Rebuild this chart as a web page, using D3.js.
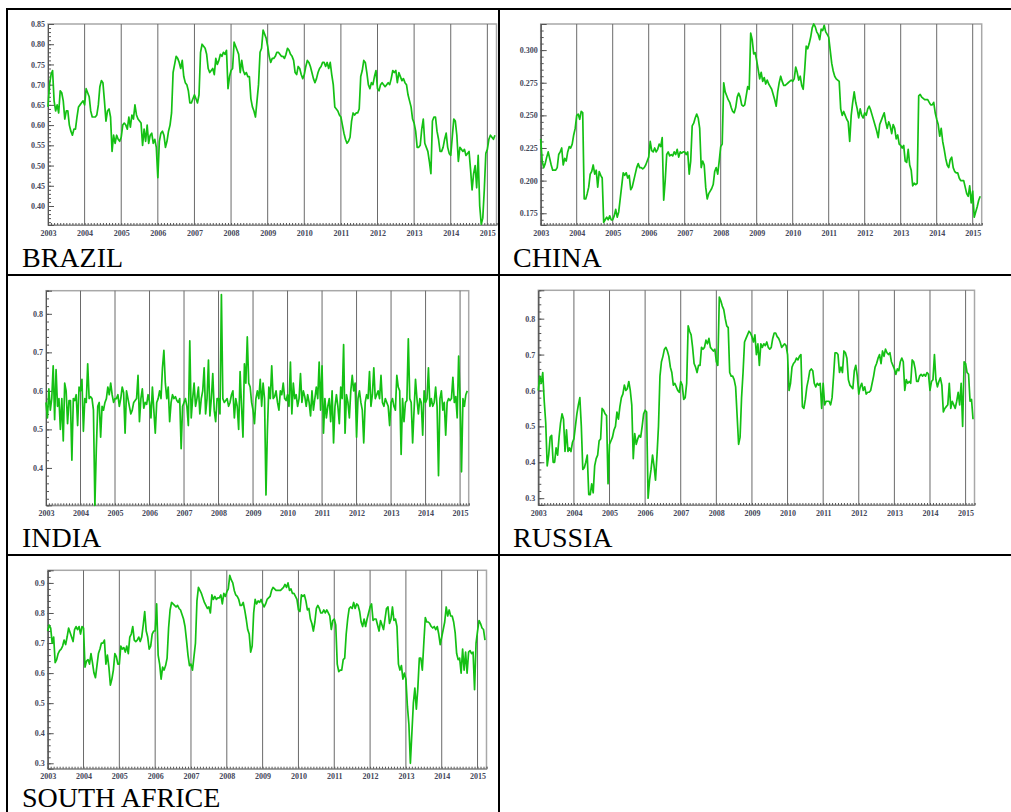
<!DOCTYPE html>
<html>
<head>
<meta charset="utf-8">
<title>BRICS</title>
<style>
body { margin: 0; background: #fff; }
.axis text { font-family: "Liberation Serif", serif; font-size: 8px; font-weight: bold; fill: #45485a; }
.axis path, .axis line { stroke: #555; }
.xaxis path { stroke: #888; }
.grid { stroke: #6a6a6a; stroke-width: 1; }
.frame { fill: none; stroke: #a8a8a8; stroke-width: 1.5; }
.series { fill: none; stroke: #14c014; stroke-width: 1.7; stroke-linejoin: round; }
.cell { stroke: #000; stroke-width: 2; }
.title { font-family: "Liberation Serif", "Times New Roman", serif; font-size: 28px; fill: #000; }
</style>
</head>
<body>
<svg width="1011" height="812"></svg>
<script src="https://d3js.org/d3.v7.min.js"></script>
<script>

// year ticks, one value every half month from Jan 2003
var years = [2003, 2004, 2005, 2006, 2007, 2008, 2009, 2010, 2011, 2012, 2013, 2014, 2015];
var perYear = 24;

var brazilTicks = [0.40, 0.45, 0.50, 0.55, 0.60, 0.65, 0.70, 0.75, 0.80, 0.85];
var chinaTicks = [0.175, 0.200, 0.225, 0.250, 0.275, 0.300];
var indiaTicks = [0.4, 0.5, 0.6, 0.7, 0.8];
var russiaTicks = [0.3, 0.4, 0.5, 0.6, 0.7, 0.8];
var safTicks = [0.3, 0.4, 0.5, 0.6, 0.7, 0.8, 0.9];

var brazil = [
  [0.645,0.70,0.725,0.735,0.66,0.635,0.65,0.63,0.685,0.68,0.66,0.615,0.635,0.635,0.60,0.585,0.575,0.59,0.59,0.62,0.645,0.65,0.655,0.66],
  [0.65,0.69,0.68,0.67,0.635,0.62,0.62,0.62,0.625,0.65,0.695,0.71,0.705,0.66,0.61,0.635,0.64,0.62,0.535,0.575,0.555,0.575,0.565,0.56],
  [0.57,0.60,0.605,0.60,0.59,0.62,0.595,0.625,0.615,0.65,0.625,0.615,0.61,0.605,0.55,0.59,0.56,0.60,0.555,0.575,0.58,0.555,0.565,0.545],
  [0.47,0.56,0.58,0.585,0.575,0.545,0.56,0.585,0.60,0.63,0.73,0.75,0.77,0.765,0.755,0.74,0.76,0.72,0.705,0.70,0.685,0.655,0.655,0.665],
  [0.675,0.665,0.655,0.675,0.78,0.80,0.795,0.79,0.775,0.74,0.73,0.735,0.74,0.725,0.765,0.75,0.76,0.775,0.77,0.78,0.775,0.785,0.69,0.72],
  [0.735,0.74,0.805,0.795,0.785,0.775,0.73,0.76,0.735,0.725,0.73,0.72,0.72,0.665,0.645,0.635,0.62,0.66,0.70,0.78,0.79,0.835,0.825,0.815],
  [0.795,0.77,0.755,0.765,0.765,0.77,0.78,0.78,0.775,0.77,0.77,0.765,0.775,0.79,0.785,0.775,0.77,0.76,0.73,0.725,0.745,0.74,0.725,0.715],
  [0.725,0.745,0.76,0.755,0.745,0.73,0.715,0.705,0.715,0.73,0.74,0.745,0.755,0.755,0.745,0.755,0.74,0.755,0.725,0.70,0.645,0.64,0.635,0.625],
  [0.62,0.60,0.58,0.565,0.555,0.56,0.57,0.61,0.63,0.625,0.63,0.63,0.64,0.72,0.735,0.76,0.755,0.73,0.70,0.69,0.705,0.70,0.72,0.735],
  [0.69,0.685,0.70,0.705,0.70,0.695,0.70,0.705,0.70,0.715,0.735,0.73,0.735,0.705,0.73,0.72,0.71,0.715,0.705,0.70,0.675,0.66,0.645,0.615],
  [0.605,0.585,0.545,0.545,0.55,0.59,0.615,0.555,0.545,0.535,0.51,0.48,0.61,0.62,0.62,0.585,0.565,0.535,0.535,0.545,0.565,0.58,0.545,0.53],
  [0.525,0.57,0.615,0.61,0.575,0.51,0.545,0.54,0.535,0.54,0.525,0.53,0.535,0.49,0.44,0.48,0.50,0.445,0.525,0.40,0.355,0.37,0.44,0.53],
  [0.54,0.565,0.575,0.57,0.565,0.575]
];

var china = [
  [0.232,0.215,0.210,0.213,0.218,0.222,0.217,0.212,0.208,0.208,0.208,0.210,0.220,0.222,0.225,0.212,0.217,0.215,0.222,0.226,0.225,0.228,0.235,0.240],
  [0.250,0.251,0.247,0.253,0.252,0.186,0.186,0.190,0.195,0.205,0.207,0.212,0.205,0.208,0.195,0.207,0.204,0.202,0.168,0.170,0.172,0.170,0.173,0.170],
  [0.170,0.173,0.178,0.172,0.176,0.186,0.196,0.206,0.204,0.206,0.202,0.204,0.193,0.195,0.200,0.205,0.210,0.213,0.210,0.210,0.209,0.210,0.212,0.215],
  [0.218,0.230,0.223,0.222,0.225,0.222,0.224,0.228,0.226,0.233,0.185,0.200,0.220,0.222,0.219,0.220,0.219,0.222,0.220,0.224,0.218,0.222,0.221,0.222],
  [0.222,0.220,0.222,0.205,0.215,0.242,0.244,0.248,0.251,0.248,0.240,0.210,0.215,0.212,0.195,0.186,0.190,0.192,0.194,0.197,0.207,0.210,0.205,0.215],
  [0.226,0.228,0.275,0.268,0.265,0.262,0.260,0.256,0.253,0.252,0.256,0.264,0.267,0.264,0.258,0.257,0.258,0.265,0.272,0.270,0.313,0.308,0.297,0.298],
  [0.292,0.285,0.278,0.283,0.276,0.279,0.274,0.277,0.274,0.272,0.270,0.266,0.262,0.257,0.268,0.275,0.280,0.276,0.273,0.273,0.274,0.275,0.276,0.277],
  [0.276,0.278,0.287,0.283,0.277,0.280,0.273,0.270,0.285,0.303,0.301,0.305,0.310,0.317,0.320,0.318,0.314,0.312,0.308,0.316,0.315,0.319,0.314,0.312],
  [0.310,0.300,0.290,0.284,0.280,0.278,0.277,0.276,0.255,0.250,0.253,0.250,0.247,0.245,0.230,0.250,0.260,0.268,0.260,0.255,0.248,0.255,0.250,0.248],
  [0.252,0.250,0.255,0.257,0.254,0.250,0.246,0.242,0.238,0.233,0.243,0.246,0.249,0.252,0.245,0.240,0.245,0.242,0.236,0.243,0.240,0.232,0.235,0.228],
  [0.227,0.225,0.227,0.215,0.214,0.224,0.212,0.208,0.196,0.198,0.197,0.198,0.265,0.266,0.264,0.263,0.262,0.262,0.262,0.260,0.258,0.258,0.260,0.252],
  [0.247,0.243,0.234,0.240,0.230,0.224,0.217,0.212,0.210,0.216,0.218,0.210,0.207,0.206,0.206,0.202,0.200,0.200,0.200,0.195,0.190,0.188,0.196,0.183],
  [0.192,0.172,0.176,0.180,0.185,0.188]
];

var india = [
  [0.57,0.53,0.605,0.55,0.58,0.665,0.525,0.655,0.56,0.58,0.50,0.58,0.47,0.62,0.60,0.515,0.575,0.575,0.42,0.58,0.575,0.59,0.51,0.61],
  [0.60,0.63,0.495,0.58,0.57,0.67,0.58,0.585,0.58,0.55,0.303,0.45,0.56,0.57,0.48,0.56,0.55,0.57,0.58,0.61,0.59,0.62,0.59,0.57],
  [0.58,0.58,0.59,0.56,0.58,0.61,0.595,0.49,0.60,0.58,0.56,0.54,0.55,0.57,0.575,0.58,0.64,0.52,0.58,0.605,0.555,0.57,0.565,0.59],
  [0.57,0.53,0.61,0.55,0.49,0.57,0.58,0.60,0.58,0.66,0.705,0.62,0.58,0.61,0.52,0.57,0.59,0.58,0.585,0.575,0.57,0.58,0.45,0.56],
  [0.57,0.58,0.56,0.51,0.73,0.53,0.58,0.62,0.56,0.58,0.61,0.54,0.58,0.60,0.66,0.54,0.58,0.68,0.535,0.58,0.645,0.55,0.52,0.58],
  [0.58,0.54,0.85,0.58,0.57,0.575,0.58,0.56,0.57,0.59,0.60,0.53,0.58,0.56,0.50,0.65,0.56,0.48,0.67,0.62,0.74,0.62,0.61,0.57],
  [0.55,0.515,0.58,0.60,0.58,0.63,0.56,0.62,0.58,0.33,0.50,0.61,0.58,0.665,0.58,0.585,0.60,0.57,0.55,0.60,0.59,0.62,0.58,0.575],
  [0.59,0.56,0.675,0.54,0.62,0.58,0.59,0.56,0.58,0.645,0.57,0.60,0.585,0.56,0.59,0.57,0.535,0.60,0.55,0.58,0.61,0.58,0.675,0.55],
  [0.665,0.49,0.58,0.53,0.56,0.58,0.52,0.60,0.465,0.56,0.59,0.56,0.515,0.61,0.58,0.72,0.49,0.59,0.57,0.53,0.60,0.64,0.60,0.62],
  [0.48,0.58,0.60,0.57,0.55,0.465,0.57,0.59,0.58,0.65,0.56,0.59,0.66,0.58,0.59,0.60,0.58,0.64,0.57,0.56,0.58,0.57,0.56,0.51],
  [0.57,0.58,0.56,0.55,0.64,0.61,0.60,0.435,0.58,0.52,0.57,0.575,0.735,0.58,0.57,0.465,0.55,0.63,0.58,0.54,0.58,0.57,0.485,0.60],
  [0.57,0.58,0.66,0.56,0.58,0.56,0.57,0.61,0.56,0.38,0.58,0.60,0.55,0.57,0.485,0.57,0.58,0.575,0.58,0.635,0.57,0.585,0.53,0.69],
  [0.58,0.39,0.58,0.56,0.59,0.60]
];

var russia = [
  [0.60,0.64,0.62,0.65,0.57,0.51,0.39,0.42,0.47,0.475,0.40,0.40,0.44,0.42,0.47,0.51,0.535,0.52,0.43,0.49,0.43,0.44,0.43,0.455],
  [0.465,0.50,0.535,0.56,0.58,0.50,0.38,0.385,0.40,0.42,0.31,0.31,0.34,0.315,0.39,0.41,0.42,0.46,0.465,0.55,0.545,0.535,0.53,0.34],
  [0.45,0.46,0.47,0.49,0.50,0.54,0.52,0.555,0.58,0.59,0.615,0.60,0.605,0.625,0.60,0.56,0.41,0.48,0.45,0.465,0.475,0.47,0.50,0.535],
  [0.545,0.54,0.30,0.35,0.38,0.42,0.39,0.35,0.42,0.50,0.64,0.68,0.695,0.715,0.72,0.71,0.695,0.665,0.65,0.615,0.62,0.61,0.60,0.595],
  [0.625,0.615,0.575,0.58,0.62,0.78,0.765,0.755,0.72,0.675,0.665,0.65,0.67,0.67,0.72,0.715,0.72,0.74,0.73,0.745,0.72,0.715,0.71,0.715],
  [0.68,0.67,0.86,0.85,0.835,0.825,0.80,0.78,0.775,0.65,0.64,0.64,0.63,0.61,0.53,0.45,0.47,0.58,0.65,0.735,0.745,0.755,0.765,0.76],
  [0.75,0.735,0.755,0.70,0.73,0.67,0.73,0.72,0.73,0.725,0.735,0.72,0.715,0.72,0.745,0.76,0.76,0.75,0.745,0.735,0.72,0.725,0.73,0.725],
  [0.70,0.60,0.62,0.665,0.675,0.68,0.69,0.685,0.695,0.70,0.555,0.55,0.575,0.61,0.63,0.655,0.66,0.655,0.62,0.61,0.62,0.615,0.62,0.55],
  [0.62,0.56,0.57,0.57,0.57,0.56,0.58,0.64,0.705,0.705,0.70,0.65,0.665,0.65,0.71,0.705,0.69,0.63,0.615,0.61,0.605,0.655,0.67,0.64],
  [0.59,0.61,0.62,0.60,0.61,0.59,0.595,0.595,0.60,0.62,0.64,0.665,0.675,0.69,0.70,0.675,0.71,0.695,0.715,0.705,0.70,0.705,0.68,0.67],
  [0.66,0.645,0.66,0.655,0.68,0.69,0.68,0.60,0.63,0.62,0.625,0.62,0.685,0.68,0.66,0.625,0.625,0.64,0.645,0.64,0.645,0.64,0.65,0.645],
  [0.60,0.625,0.63,0.70,0.63,0.61,0.625,0.635,0.615,0.54,0.55,0.555,0.56,0.62,0.55,0.57,0.56,0.55,0.57,0.595,0.56,0.62,0.50,0.68],
  [0.675,0.65,0.645,0.57,0.575,0.52]
];

var southAfrica = [
  [0.74,0.76,0.75,0.70,0.72,0.635,0.645,0.665,0.675,0.68,0.69,0.71,0.695,0.72,0.75,0.735,0.72,0.705,0.745,0.755,0.745,0.755,0.73,0.755],
  [0.75,0.62,0.64,0.645,0.63,0.665,0.635,0.60,0.585,0.625,0.665,0.68,0.70,0.70,0.71,0.63,0.66,0.62,0.56,0.58,0.61,0.665,0.655,0.63],
  [0.63,0.69,0.68,0.685,0.67,0.69,0.665,0.72,0.73,0.755,0.71,0.705,0.71,0.72,0.705,0.72,0.76,0.805,0.74,0.72,0.68,0.69,0.73,0.74],
  [0.74,0.83,0.66,0.63,0.58,0.62,0.61,0.625,0.65,0.75,0.81,0.835,0.83,0.825,0.82,0.825,0.815,0.81,0.795,0.78,0.755,0.71,0.66,0.625],
  [0.63,0.61,0.655,0.70,0.84,0.885,0.875,0.865,0.85,0.835,0.825,0.815,0.82,0.80,0.86,0.845,0.855,0.845,0.85,0.85,0.86,0.83,0.865,0.855],
  [0.87,0.88,0.925,0.91,0.90,0.875,0.86,0.855,0.845,0.825,0.825,0.835,0.81,0.78,0.745,0.73,0.67,0.69,0.80,0.845,0.83,0.84,0.835,0.845],
  [0.83,0.82,0.83,0.845,0.85,0.855,0.875,0.885,0.88,0.875,0.875,0.875,0.875,0.88,0.885,0.895,0.885,0.90,0.875,0.88,0.865,0.865,0.855,0.845],
  [0.81,0.805,0.86,0.855,0.86,0.84,0.81,0.815,0.78,0.765,0.74,0.77,0.815,0.825,0.815,0.80,0.80,0.81,0.80,0.81,0.80,0.79,0.745,0.775],
  [0.78,0.76,0.63,0.605,0.61,0.61,0.645,0.65,0.73,0.78,0.815,0.82,0.815,0.835,0.815,0.83,0.825,0.805,0.77,0.755,0.78,0.755,0.78,0.80],
  [0.82,0.83,0.775,0.78,0.78,0.76,0.74,0.775,0.76,0.745,0.78,0.815,0.82,0.765,0.78,0.82,0.775,0.78,0.755,0.63,0.61,0.625,0.58,0.60],
  [0.58,0.49,0.43,0.30,0.40,0.50,0.55,0.48,0.55,0.65,0.65,0.61,0.70,0.785,0.77,0.77,0.765,0.755,0.75,0.755,0.745,0.755,0.73,0.695],
  [0.72,0.745,0.77,0.82,0.79,0.81,0.79,0.79,0.77,0.735,0.665,0.645,0.65,0.60,0.68,0.61,0.67,0.60,0.67,0.675,0.665,0.67,0.545,0.70],
  [0.74,0.775,0.765,0.75,0.745,0.71]
];

var svg = d3.select("svg");

// table rules
var rules = [
  [6, 9, 1011, 9], [7, 8, 7, 812], [499, 8, 499, 812],
  [6, 275, 1011, 275], [6, 555, 1011, 555]
];
svg.selectAll(".cell").data(rules).enter().append("line")
    .attr("class", "cell")
    .attr("x1", function(d) { return d[0]; }).attr("y1", function(d) { return d[1]; })
    .attr("x2", function(d) { return d[2]; }).attr("y2", function(d) { return d[3]; });

var panels = [
  {name: "BRAZIL", values: brazil, ticks: brazilTicks, fmt: ".2f", minor: 0.01,
   box: [48, 24, 496.5, 225], dom: [0.353, 0.85], tx: 22, ty: 266.5},
  {name: "CHINA", values: china, ticks: chinaTicks, fmt: ".3f", minor: 0.005,
   box: [540.7, 24, 981.7, 225], dom: [0.166, 0.320], tx: 513, ty: 266.5},
  {name: "INDIA", values: india, ticks: indiaTicks, fmt: ".1f", minor: 0.02,
   box: [46, 290.7, 468.7, 505.3], dom: [0.303, 0.86], tx: 22, ty: 546.5},
  {name: "RUSSIA", values: russia, ticks: russiaTicks, fmt: ".1f", minor: 0.02,
   box: [538.3, 290.3, 974.5, 505], dom: [0.281, 0.879], tx: 513, ty: 546.5},
  {name: "SOUTH AFRICE", values: southAfrica, ticks: safTicks, fmt: ".1f", minor: 0.02,
   box: [47.7, 570.3, 486.5, 768.7], dom: [0.282, 0.942], tx: 22, ty: 807}
];

panels.forEach(function(p) {
  var w = p.box[2] - p.box[0], h = p.box[3] - p.box[1];
  var g = svg.append("g").attr("transform", "translate(" + p.box[0] + "," + p.box[1] + ")");

  var x = d3.scaleLinear().domain([2003, 2015.25]).range([0, w]);
  var y = d3.scaleLinear().domain(p.dom).range([h, 0]);

  var pts = d3.merge(p.values).map(function(v, i) { return [2003 + i / perYear, v]; });

  g.append("rect").attr("class", "frame").attr("width", w).attr("height", h);

  g.selectAll(".grid").data(years.slice(1)).enter().append("line")
      .attr("class", "grid")
      .attr("x1", function(d) { return x(d); }).attr("x2", function(d) { return x(d); })
      .attr("y1", 0).attr("y2", h);

  // monthly minor ticks along the bottom
  var months = d3.range(0, 12.25 * 12 + 1).map(function(m) { return 2003 + m / 12; });
  g.append("g").attr("class", "axis xaxis")
      .attr("transform", "translate(0," + h + ")")
      .call(d3.axisBottom(x).tickValues(months).tickSize(-2).tickFormat(""));
  g.append("g").attr("class", "axis xaxis")
      .attr("transform", "translate(0," + h + ")")
      .call(d3.axisBottom(x).tickValues(years).tickSize(0).tickPadding(5).tickFormat(d3.format("d")))
      .select(".domain").remove();

  var lo = Math.ceil(p.dom[0] / p.minor), hi = Math.floor(p.dom[1] / p.minor);
  var minors = d3.range(lo, hi + 1).map(function(k) { return k * p.minor; });
  g.append("g").attr("class", "axis")
      .call(d3.axisLeft(y).tickValues(minors).tickSize(-3).tickFormat(""));
  g.append("g").attr("class", "axis")
      .call(d3.axisLeft(y).tickValues(p.ticks).tickSize(-6).tickPadding(3).tickFormat(d3.format(p.fmt)));

  g.append("path")
      .datum(pts)
      .attr("class", "series")
      .attr("d", d3.line()
          .x(function(d) { return x(d[0]); })
          .y(function(d) { return y(d[1]); }));

  svg.append("text").attr("class", "title")
      .attr("x", p.tx).attr("y", p.ty).text(p.name);
});

</script>
</body>
</html>
